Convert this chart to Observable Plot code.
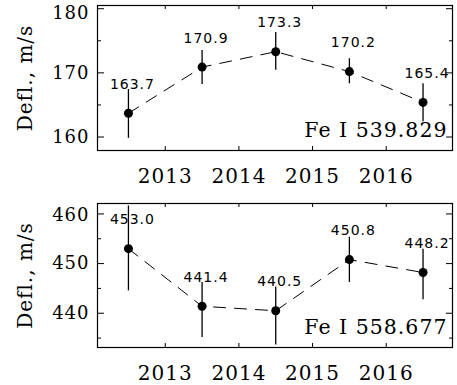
<!DOCTYPE html>
<html>
<head>
<meta charset="utf-8">
<script src="https://cdn.jsdelivr.net/npm/d3@7"></script>
<script src="https://cdn.jsdelivr.net/npm/@observablehq/plot@0.6"></script>
<style>
  html, body { margin: 0; padding: 0; background: white; }
  #chart svg { display: block; }
  #chart svg text { letter-spacing: 1px; }
</style>
</head>
<body>
<div id="chart"></div>
<script>
const years = [2012.5, 2013.5, 2014.5, 2015.5, 2016.5];
const xTicks = [2013, 2014, 2015, 2016];

const defl539 = [163.7, 170.9, 173.3, 170.2, 165.4];
const errHi539 = [3.7, 2.6, 3.0, 2.0, 2.9];
const errLo539 = [3.9, 2.7, 2.9, 1.9, 3.0];
const yMajor539 = [160, 170, 180];
const yMinor539 = [165, 175];

const defl558 = [453.0, 441.4, 440.5, 450.8, 448.2];
const errHi558 = [8.6, 4.8, 4.8, 4.5, 4.7];
const errLo558 = [8.5, 6.3, 6.9, 4.6, 5.5];
const yMajor558 = [440, 450, 460];
const yMinor558 = [435, 445, 455];

const lineNames = ["Fe I 539.829", "Fe I 558.677"];
const yLabel = "Defl., m/s";

const W = 457, ML = 97, MR = 5;
const FW = W - ML - MR;

function panel({values, hi, lo, domain, majors, minors, name, height, marginTop, marginBottom, topLabelDy}) {
  const data = years.map((x, i) => ({x, v: values[i], lo: values[i] - lo[i], hi: values[i] + hi[i]}));
  const FH = height - marginTop - marginBottom;
  const yAxisOpts = {tickSize: 0, tickPadding: 8, fontSize: 18, tickFormat: d => String(d), label: null};
  return Plot.plot({
    width: W, height, marginTop, marginBottom, marginLeft: ML, marginRight: MR,
    x: {domain: [2012.08, 2016.9]},
    y: {domain},
    style: {fontFamily: "DejaVu Serif", background: "white", color: "black"},
    marks: [
      Plot.frame({stroke: "black", strokeWidth: 1.2}),
      Plot.tickX(xTicks, {x: d => d, insetTop: FH - 4, stroke: "black"}),
      Plot.tickX(xTicks, {x: d => d, insetBottom: FH - 4, stroke: "black"}),
      Plot.tickY(majors, {y: d => d, insetRight: FW - 7, stroke: "black"}),
      Plot.tickY(majors, {y: d => d, insetLeft: FW - 6, stroke: "black"}),
      Plot.tickY(minors, {y: d => d, insetRight: FW - 4, stroke: "black"}),
      Plot.tickY(minors, {y: d => d, insetLeft: FW - 3, stroke: "black"}),
      Plot.axisX({ticks: xTicks, tickSize: 0, tickPadding: 18, fontSize: 20, tickFormat: d => String(d), label: null}),
      Plot.axisY({ticks: majors.slice(0, -1), ...yAxisOpts}),
      Plot.axisY({ticks: majors.slice(-1), ...yAxisOpts, dy: topLabelDy}),
      Plot.text([yLabel], {frameAnchor: "left", text: d => d, rotate: -90, textAnchor: "middle", dx: -72, fontSize: 20}),
      Plot.line(data, {x: "x", y: "v", stroke: "black", strokeWidth: 1, strokeDasharray: "12,9"}),
      Plot.ruleX(data, {x: "x", y1: "lo", y2: "hi", stroke: "black", strokeWidth: 1.3}),
      Plot.dot(data, {x: "x", y: "v", r: 4.5, fill: "black", stroke: "none"}),
      Plot.text(data, {x: "x", y: "v", text: d => d.v.toFixed(1), dy: -29, dx: 4, fontFamily: "DejaVu Sans", fontSize: 14, fill: "black"}),
      Plot.text([name], {frameAnchor: "bottom-right", text: d => d, textAnchor: "end", dx: -5, dy: -14, fontSize: 20.5, fill: "black"})
    ]
  });
}

const chart = document.getElementById("chart");
chart.append(panel({values: defl539, hi: errHi539, lo: errLo539, domain: [157.9, 180.5],
  majors: yMajor539, minors: yMinor539, name: lineNames[0], height: 190, marginTop: 5, marginBottom: 40, topLabelDy: 5}));
chart.append(panel({values: defl558, hi: errHi558, lo: errLo558, domain: [433.1, 462.1],
  majors: yMajor558, minors: yMinor558, name: lineNames[1], height: 195, marginTop: 13, marginBottom: 38, topLabelDy: 1}));
</script>
</body>
</html>
